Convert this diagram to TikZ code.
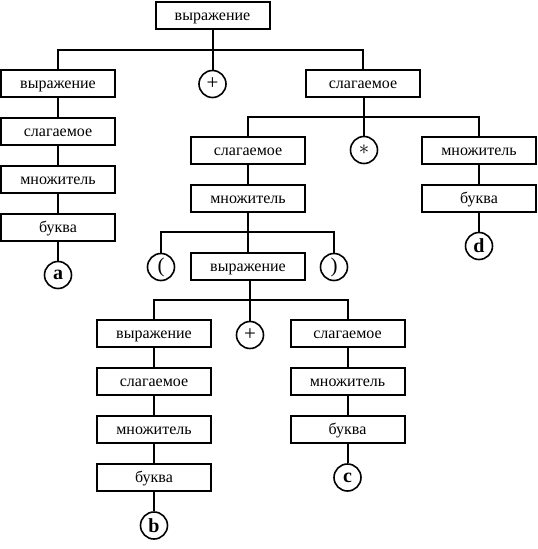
\documentclass[tikz,border=0pt]{standalone}
\usepackage{fontspec}
\setmainfont{Liberation Serif}
\usetikzlibrary{positioning}

\begin{document}
\begin{tikzpicture}[x=1pt, y=1pt, node distance=48pt, line width=2pt,
    box/.style={rectangle, draw, line width=2pt, minimum width=114pt, minimum height=27pt, inner sep=0pt, text height=11pt, text depth=1pt, font=\fontsize{16}{18}\selectfont},
    sign/.style={circle, draw, line width=1.6pt, minimum size=27pt, inner sep=0pt, font=\fontsize{21}{23}\selectfont},
    leaf/.style={sign, font=\fontsize{20}{22}\selectfont\bfseries}]
    \useasboundingbox (0,0) rectangle (538,-549);

    % top level
    \node [box] (expr0) at (212.5,-15.5) {выражение};
    \node [box] (expr1) at (58,-83) {выражение};
    \node [sign] (plus1) at (212.5,-84) {+};
    \node [box] (term1) at (363,-83) {слагаемое};
    \coordinate (bus0) at (212.5,-50);

    % left column
    \node [box, below of=expr1] (term2) {слагаемое};
    \node [box, below of=term2] (fact2) {множитель};
    \node [box, below of=fact2] (lett2) {буква};
    \node [leaf, below of=lett2] (la) {a};

    % under term1
    \node [box] (term3) at (248,-150) {слагаемое};
    \node [sign] (star) at (364,-150) {$\ast$};
    \node [box] (fact3) at (479,-150) {множитель};
    \node [box, below of=fact3] (lett3) {буква};
    \node [leaf, below of=lett3] (ld) {d};
    \coordinate (bus1) at (364,-117);

    % parenthesised expression
    \node [box, below of=term3] (fact4) {множитель};
    \node [sign] (lpar) at (161,-267) {(};
    \node [box] (expr4) at (248,-266) {выражение};
    \node [sign] (rpar) at (334,-267) {)};
    \coordinate (bus2) at (248,-232);

    % inner expression
    \node [box] (expr5) at (154,-333.5) {выражение};
    \node [sign] (plus2) at (250,-335) {+};
    \node [box] (term5) at (347.5,-333.5) {слагаемое};
    \coordinate (bus3) at (250,-300);
    \node [box, below of=expr5] (term6) {слагаемое};
    \node [box, below of=term6] (fact6) {множитель};
    \node [box, below of=fact6] (lett6) {буква};
    \node [leaf, below of=lett6] (lb) {b};
    \node [box, below of=term5] (fact7) {множитель};
    \node [box, below of=fact7] (lett7) {буква};
    \node [leaf, below of=lett7] (lc) {c};

    \draw (expr0) -- (plus1);
    \draw (expr1.north) |- (bus0) -| (term1.north);
    \draw (expr1) -- (term2) -- (fact2) -- (lett2) -- (la);

    \draw (term1.south -| star) -- (star);
    \draw (term3.north) |- (bus1) -| (fact3.north);
    \draw (fact3) -- (lett3) -- (ld);

    \draw (term3) -- (fact4) -- (expr4);
    \draw (lpar.north) |- (bus2) -| (rpar.north);

    \draw (expr4.south -| plus2) -- (plus2);
    \draw (expr5.north) |- (bus3) -| (term5.north);
    \draw (expr5) -- (term6) -- (fact6) -- (lett6) -- (lb);
    \draw (term5) -- (fact7) -- (lett7) -- (lc);
\end{tikzpicture}
\end{document}
